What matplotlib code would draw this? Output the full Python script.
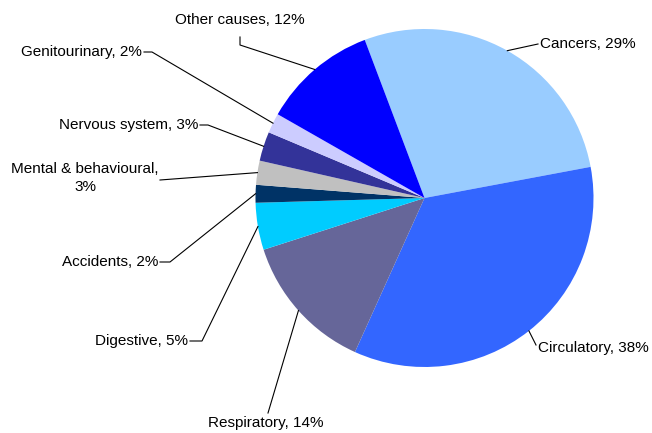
import numpy as np
import matplotlib.pyplot as plt

plt.rcParams['font.family'] = ['Liberation Sans', 'DejaVu Sans']

# shares as drawn (degrees of the pie, in %)
causes = ['Cancers', 'Circulatory', 'Respiratory', 'Digestive', 'Accidents',
          'Mental & behavioural', 'Nervous system', 'Genitourinary', 'Other causes']
shares = [27.8, 34.7, 13.3, 4.5, 1.7, 2.3, 2.8, 1.9, 11.0]
label_pct = ['29%', '38%', '14%', '5%', '2%', '3%', '3%', '2%', '12%']
colors = ['#99CCFF', '#3366FF', '#666699', '#00CCFF', '#003366',
          '#C0C0C0', '#333399', '#CCCCFF', '#0000FF']

W, H = 652, 433
fig = plt.figure(figsize=(W / 100, H / 100), dpi=100)
ax = fig.add_axes([0, 0, 1, 1])

cx, cy, r = 424.5, H - 198, 169
wedges, _ = ax.pie(shares, colors=colors, startangle=110.7, counterclock=False,
                   center=(cx, cy), radius=r, frame=True,
                   wedgeprops=dict(linewidth=0))
ax.set_xlim(0, W)
ax.set_ylim(0, H)
ax.set_aspect('equal')
ax.axis('off')

# label text position (pixel coords, y down), alignment, elbow point
label_pos = {
    'Cancers':              ((540, 44), 'left', (538, 44)),
    'Circulatory':          ((538, 348), 'left', (536, 345)),
    'Respiratory':          ((266, 423), 'center', (268, 413)),
    'Digestive':            ((188, 341), 'right', (202, 341)),
    'Accidents':            ((158, 262), 'right', (170, 262)),
    'Mental & behavioural': ((85, 178), 'center', (160, 180)),
    'Nervous system':       ((198, 125), 'right', (208, 125)),
    'Genitourinary':        ((142, 52), 'right', (152, 52)),
    'Other causes':         ((240, 20), 'center', (240, 37)),
}

for w, name, pct in zip(wedges, causes, label_pct):
    (tx, ty), ha, (ex, ey) = label_pos[name]
    mid = np.deg2rad((w.theta1 + w.theta2) / 2)
    px, py = cx + r * np.cos(mid), cy + r * np.sin(mid)
    if name == 'Mental & behavioural':
        txt = name + ',\n' + pct
    else:
        txt = name + ', ' + pct
    ax.text(tx, H - ty, txt, ha=ha, va='center', fontsize=11,
            color='black', linespacing=1.45)
    if name == 'Other causes':
        xs, ys = [ex, ex, px], [H - ey, H - 45, py]
    elif ha == 'right':
        xs, ys = [tx + 2, ex, px], [H - ty, H - ey, py]
    else:
        xs, ys = [ex, px], [H - ey, py]
    ax.plot(xs, ys, color='black', linewidth=0.8)

fig.savefig('out.png', dpi=100)
